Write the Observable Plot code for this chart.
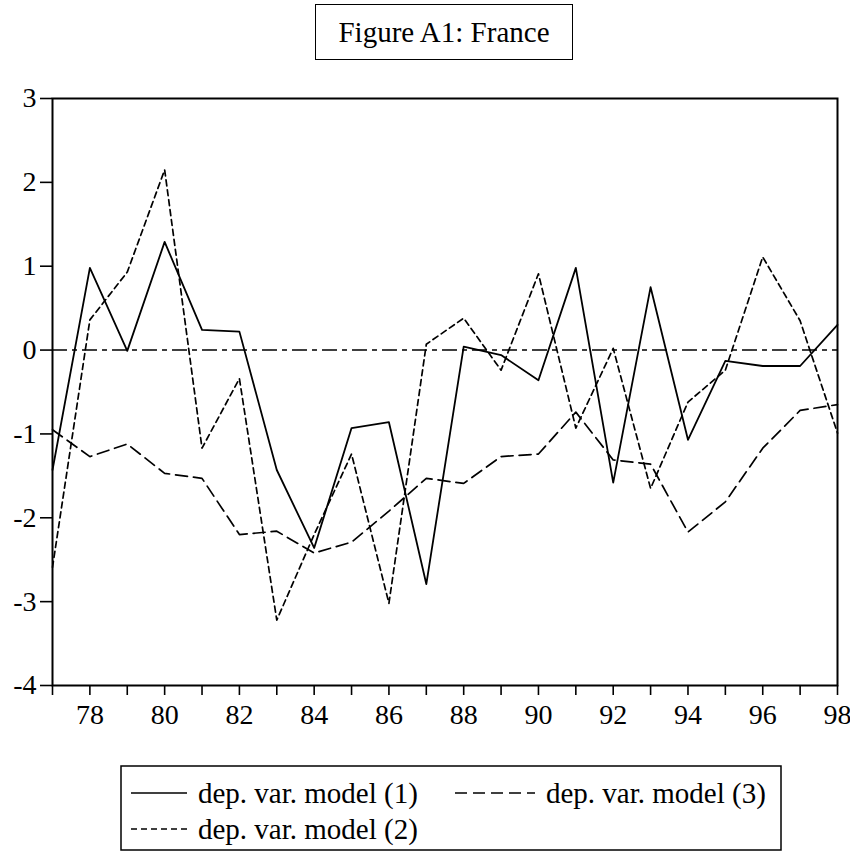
<!DOCTYPE html>
<html>
<head>
<meta charset="utf-8">
<script src="https://cdn.jsdelivr.net/npm/d3@7"></script>
<script src="https://cdn.jsdelivr.net/npm/@observablehq/plot@0.6"></script>
<style>
  html, body { margin: 0; padding: 0; background: #fff; }
  body { width: 850px; height: 852px; position: relative; overflow: hidden; font-family: "Liberation Serif", "Times New Roman", serif; }
  #title { position: absolute; left: 315px; top: 4px; width: 256px; height: 54px; border: 1.5px solid #000; font-size: 29px; line-height: 54px; text-align: center; color: #000; }
  #chart { position: absolute; left: 0; top: 62px; }
  #legend { position: absolute; left: 0; top: 0; }
</style>
</head>
<body>
<div id="title">Figure A1: France</div>
<div id="chart"></div>
<svg id="legend" width="850" height="852"></svg>
<script>
const years = [77,78,79,80,81,82,83,84,85,86,87,88,89,90,91,92,93,94,95,96,97,98];
const model1 = [-1.43, 0.98, -0.01, 1.29, 0.24, 0.22, -1.43, -2.36, -0.93, -0.86, -2.79, 0.04, -0.06, -0.36, 0.98, -1.58, 0.75, -1.07, -0.13, -0.19, -0.19, 0.30];
const model2 = [-2.59, 0.36, 0.93, 2.15, -1.17, -0.34, -3.22, -2.20, -1.24, -3.02, 0.07, 0.38, -0.24, 0.91, -0.93, 0.02, -1.65, -0.62, -0.24, 1.11, 0.35, -0.99];
const model3 = [-0.95, -1.27, -1.12, -1.47, -1.53, -2.20, -2.16, -2.42, -2.29, -1.92, -1.53, -1.59, -1.27, -1.24, -0.74, -1.31, -1.36, -2.17, -1.81, -1.17, -0.72, -0.65];
const yTicks = [-4,-3,-2,-1,0,1,2,3];
const seriesNames = ["dep. var. model (1)", "dep. var. model (2)", "dep. var. model (3)"];

const FONT = "Liberation Serif";
const d1 = years.map((y, i) => ({year: y, v: model1[i]}));
const d2 = years.map((y, i) => ({year: y, v: model2[i]}));
const d3r = years.map((y, i) => ({year: y, v: model3[i]}));

const chart = Plot.plot({
  width: 850,
  height: 688,
  marginTop: 36,
  marginBottom: 65,
  marginLeft: 52,
  marginRight: 13,
  style: {fontFamily: FONT, fontSize: "28px", color: "#000", background: "#fff"},
  x: {domain: [77, 98], label: null},
  y: {domain: [-4, 3], label: null},
  marks: [
    Plot.ruleY([0], {stroke: "#000", strokeWidth: 1.6, strokeDasharray: "15,5,5,5"}),
    Plot.line(d3r, {x: "year", y: "v", stroke: "#000", strokeWidth: 1.7, strokeDasharray: "12,6"}),
    Plot.line(d2, {x: "year", y: "v", stroke: "#000", strokeWidth: 1.7, strokeDasharray: "6,4"}),
    Plot.line(d1, {x: "year", y: "v", stroke: "#000", strokeWidth: 1.8}),
    Plot.frame({stroke: "#000", strokeWidth: 2}),
    Plot.axisX({ticks: years, label: null, tickSize: 10, tickPadding: 9, tickFormat: d => d % 2 === 0 ? String(d) : "", fontSize: 28, fontFamily: FONT, strokeWidth: 1.6}),
    Plot.axisY({ticks: yTicks, label: null, tickSize: 12, tickPadding: 4, tickFormat: d => String(d), fontSize: 28, fontFamily: FONT, strokeWidth: 1.6})
  ]
});
document.getElementById("chart").appendChild(chart);

// Legend
const lg = d3.select("#legend");
lg.append("rect").attr("x", 121).attr("y", 766).attr("width", 660).attr("height", 84)
  .attr("fill", "none").attr("stroke", "#000").attr("stroke-width", 1.5);
const items = [
  {name: seriesNames[0], x1: 131, x2: 187, tx: 198, y: 793, dash: null},
  {name: seriesNames[2], x1: 455, x2: 535, tx: 546, y: 793, dash: "12,6"},
  {name: seriesNames[1], x1: 131, x2: 187, tx: 198, y: 829, dash: "6,4"}
];
items.forEach(it => {
  const l = lg.append("line").attr("x1", it.x1).attr("x2", it.x2).attr("y1", it.y).attr("y2", it.y)
    .attr("stroke", "#000").attr("stroke-width", 1.7);
  if (it.dash) l.attr("stroke-dasharray", it.dash);
  lg.append("text").attr("x", it.tx).attr("y", it.y).attr("dy", "0.35em")
    .attr("font-family", FONT).attr("font-size", 29)
    .attr("fill", "#000").text(it.name);
});
</script>
</body>
</html>
